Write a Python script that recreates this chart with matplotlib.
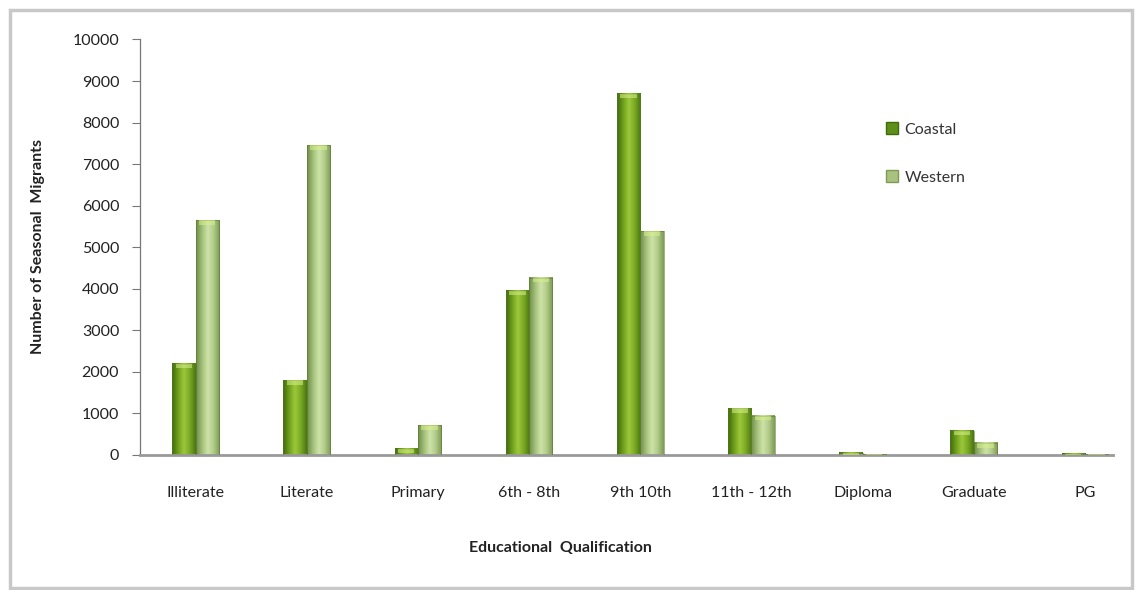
import numpy as np
import matplotlib
matplotlib.use("Agg")
import matplotlib.pyplot as plt
from matplotlib.colors import LinearSegmentedColormap
from matplotlib.patches import Rectangle

# Seasonal migrants by educational qualification
categories = ["Illiterate", "Literate", "Primary", "6th - 8th", "9th 10th",
              "11th - 12th", "Diploma", "Graduate", "PG"]
coastal = [2200, 1800, 150, 3950, 8700, 1120, 50, 580, 30]
western = [5650, 7450, 720, 4270, 5380, 950, 20, 290, 20]

plt.rcParams["font.family"] = ["Lato", "DejaVu Sans"]

coastal_cmap = LinearSegmentedColormap.from_list(
    "coastal", ["#3f6b0c", "#6f9e1c", "#9cc93a", "#7aa824", "#4a770f"])
western_cmap = LinearSegmentedColormap.from_list(
    "western", ["#6f8c4a", "#a3c07a", "#cfe3a8", "#b0ca88", "#7d9a56"])


def gradient_bars(ax, xs, heights, width, cmap):
    grad = np.linspace(0, 1, 64).reshape(1, -1)
    for x, h in zip(xs, heights):
        x0 = x - width / 2
        ax.imshow(grad, cmap=cmap, aspect="auto", extent=(x0, x0 + width, 0, h),
                  interpolation="bicubic", zorder=2)
        ax.add_patch(Rectangle((x0, 0), width, h, fill=False,
                               edgecolor="#5a7a2a", linewidth=0.4, zorder=3))
        # lighter cap at the top of each column
        cap = min(h, 110)
        ax.add_patch(Rectangle((x0 + width * 0.15, h - cap), width * 0.7, cap,
                               facecolor="#d8f08a", edgecolor="none", alpha=0.55, zorder=3))


fig = plt.figure(figsize=(11.36, 5.90), dpi=100)
ax = fig.add_axes([140 / 1136, (590 - 455) / 590, 995 / 1136, (455 - 39.5) / 590])

x = np.arange(len(categories))
w = 0.21
gradient_bars(ax, x - w / 2, coastal, w, coastal_cmap)
gradient_bars(ax, x + w / 2, western, w, western_cmap)

ax.set_xlim(-0.5, 8.45)
ax.set_ylim(0, 10000)
ax.set_yticks(np.arange(0, 10001, 1000))
ax.set_xticks(x)
ax.set_xticklabels(categories)
ax.tick_params(axis="x", length=0, pad=22, labelsize=11.5, labelcolor="#222222")
ax.tick_params(axis="y", length=6, width=0.8, color="#777777", pad=9,
               labelsize=11.5, labelcolor="#222222")
for side in ["top", "right"]:
    ax.spines[side].set_visible(False)
ax.spines["left"].set_color("#777777")
ax.spines["left"].set_linewidth(0.9)
ax.spines["bottom"].set_color("#999999")
ax.spines["bottom"].set_linewidth(2)
ax.spines["bottom"].set_bounds(-0.5, 8.25)

handles = [Rectangle((0, 0), 1, 1, facecolor="#5e8f18", edgecolor="#3f6b0c"),
           Rectangle((0, 0), 1, 1, facecolor="#a9c27f", edgecolor="#7d9a56")]
fig.legend(handles, ["Coastal", "Western"], loc="upper left",
           bbox_to_anchor=(872 / 1136, 1 - 108 / 590), frameon=False,
           fontsize=11.5, labelspacing=2.1, handlelength=0.75, handleheight=0.75,
           handletextpad=0.4, labelcolor="#333333")

fig.text(38 / 1136, 1 - 247 / 590, "Number of Seasonal  Migrants", rotation=90,
         ha="center", va="center", fontsize=11.5, fontweight="bold", color="#222222")
fig.text(560 / 1136, 1 - 548 / 590, "Educational  Qualification",
         ha="center", va="center", fontsize=11.5, fontweight="bold", color="#222222")

# outer chart frame
fig.add_artist(Rectangle((10 / 1136, 2 / 590), 1122 / 1136, 578 / 590,
                         transform=fig.transFigure, fill=False,
                         edgecolor="#c8c8c8", linewidth=2.5))

fig.savefig("out.png", dpi=100)
